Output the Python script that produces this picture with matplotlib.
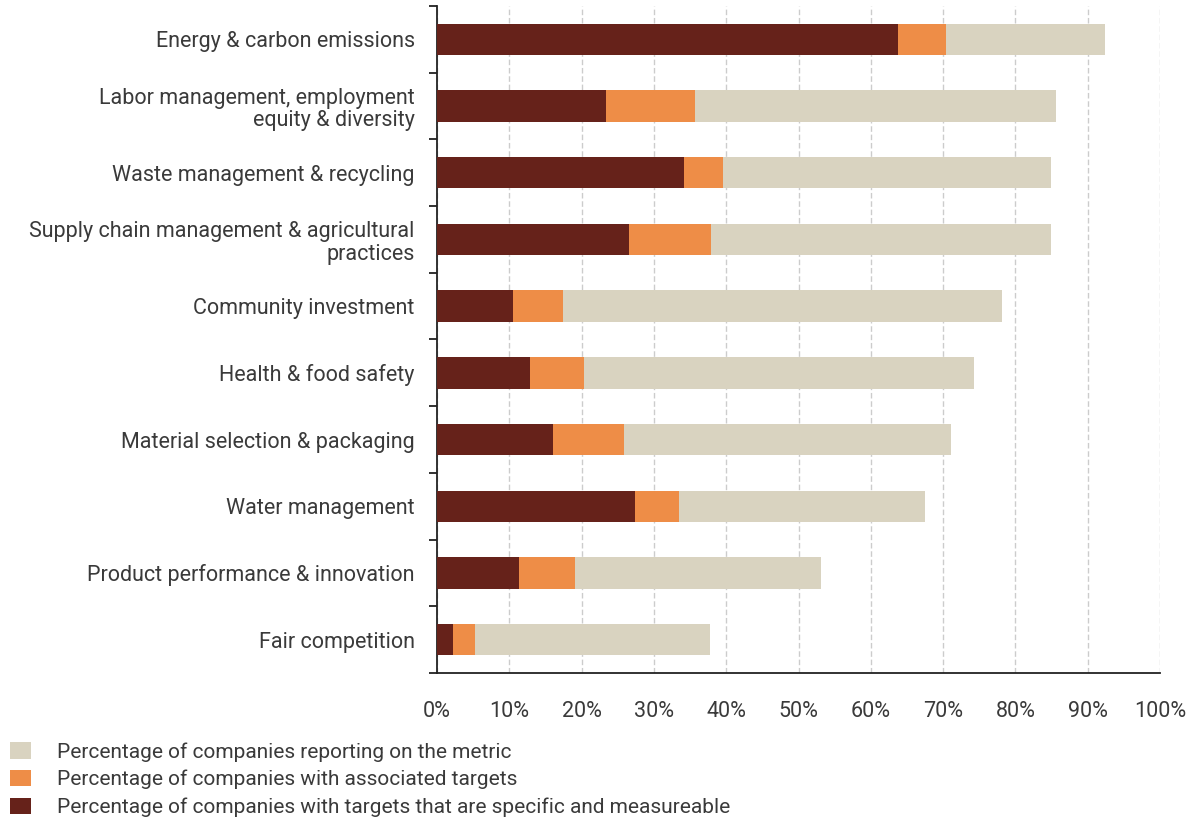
import matplotlib
matplotlib.use("Agg")
import matplotlib.pyplot as plt
import numpy as np

categories = [
    "Energy & carbon emissions",
    "Labor management, employment\nequity & diversity",
    "Waste management & recycling",
    "Supply chain management & agricultural\npractices",
    "Community investment",
    "Health & food safety",
    "Material selection & packaging",
    "Water management",
    "Product performance & innovation",
    "Fair competition",
]
reporting = [92.4, 85.6, 84.9, 84.9, 78.1, 74.3, 71.1, 67.5, 53.1, 37.8]
targets = [70.4, 35.7, 39.6, 37.9, 17.4, 20.3, 25.9, 33.5, 19.1, 5.3]
specific = [63.8, 23.4, 34.2, 26.6, 10.5, 12.9, 16.0, 27.4, 11.3, 2.2]
xticks = [0, 10, 20, 30, 40, 50, 60, 70, 80, 90, 100]

labels = [
    "Percentage of companies reporting on the metric",
    "Percentage of companies with associated targets",
    "Percentage of companies with targets that are specific and measureable",
]
c_rep, c_tgt, c_spec = "#D9D3C0", "#EE8D47", "#66221A"
text_c = "#3a3a3a"
fs = 15.5

plt.rcParams["font.family"] = ["Roboto", "DejaVu Sans"]

fig = plt.figure(figsize=(11.9, 8.25), dpi=100)
ax = fig.add_axes([437 / 1190, 1 - 673 / 825, 723 / 1190, 667 / 825])

y = np.arange(len(categories))
h = 0.47
b1 = ax.barh(y, reporting, height=h, color=c_rep, zorder=2)
b2 = ax.barh(y, targets, height=h, color=c_tgt, zorder=3)
b3 = ax.barh(y, specific, height=h, color=c_spec, zorder=4)

ax.set_xlim(0, 100)
ax.set_ylim(len(categories) - 0.5, -0.5)
ax.set_xticks(xticks)
ax.set_xticklabels([f"{t}%" for t in xticks], fontsize=fs, color=text_c)
ax.set_yticks(y)
ax.set_yticklabels(categories, fontsize=fs, color=text_c, linespacing=1.1)
ax.set_yticks(np.arange(-0.5, len(categories), 1), minor=True)
ax.tick_params(axis="y", which="major", length=0, pad=16)
ax.tick_params(axis="y", which="minor", length=6, width=1.3, color="#222222")
ax.tick_params(axis="x", length=0, pad=20)

for s in ["top", "right"]:
    ax.spines[s].set_visible(False)
ax.spines["left"].set_color("#222222")
ax.spines["left"].set_linewidth(1.3)
ax.spines["bottom"].set_color("#222222")
ax.spines["bottom"].set_linewidth(1.3)

ax.grid(axis="x", linestyle=(0, (4, 2)), color="#cccccc", linewidth=1, zorder=0)
ax.set_axisbelow(True)

fig.legend([b1, b2, b3], labels, loc="upper left", bbox_to_anchor=(10 / 1190, 1 - 742 / 825),
           frameon=False, handlelength=1.02, handleheight=0.85, borderpad=0,
           borderaxespad=0, labelspacing=0.4, handletextpad=1.25, labelcolor=text_c,
           prop={"size": 15})

fig.savefig("out.png", dpi=100)
